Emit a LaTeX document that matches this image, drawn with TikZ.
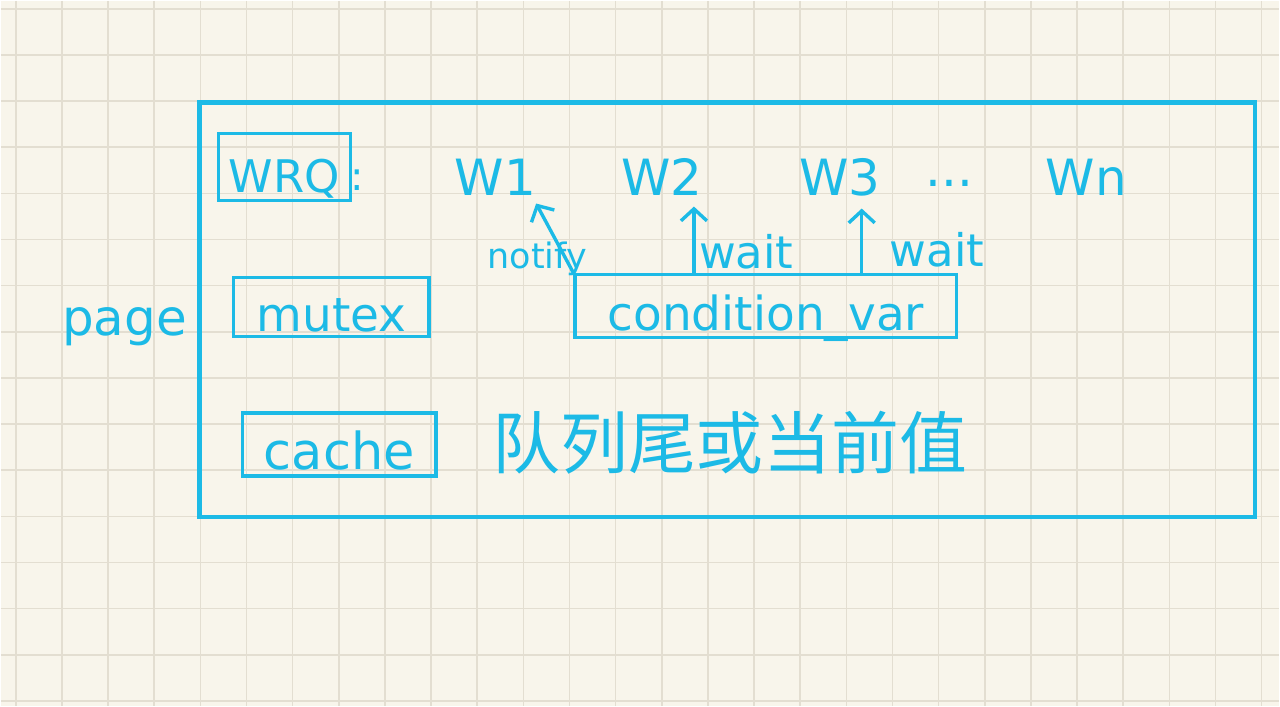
\documentclass[tikz,border=0pt]{standalone}
\usepackage{fontspec}
\setmainfont{DejaVu Sans}
\newfontfamily\cjkfont{Noto Sans CJK SC}
\usepackage{xcolor}
\usetikzlibrary{arrows.meta, calc}

\definecolor{pen}{RGB}{28,186,230}
\definecolor{paper}{RGB}{248,245,235}
\definecolor{gridline}{RGB}{227,222,209}

\begin{document}
\begin{tikzpicture}[
  x=1pt, y=-1pt,
  box/.style={draw=pen, line width=3.6pt, inner sep=0pt, text=pen,
              text height=50pt, text depth=0pt,
              font=\fontsize{47}{52}\selectfont},
  lbl/.style={text=pen, inner sep=0pt, anchor=base,
              font=\fontsize{50}{56}\selectfont},
  small/.style={text=pen, inner sep=0pt, anchor=base west,
                font=\fontsize{45}{50}\selectfont},
  ar/.style={draw=pen, line width=3.4pt, line cap=round,
             -{Straight Barb[length=12pt, width=26pt, line width=3.4pt]}}
]
% paper and grid
\fill[paper] (0,0) rectangle (1280,706);
\foreach \gx in {0,...,27}
  \draw[gridline, line width=1.6pt] ({15+46.2*\gx},0) -- ({15+46.2*\gx},706);
\foreach \gy in {0,...,15}
  \draw[gridline, line width=1.6pt] (0,{8+46.2*\gy}) -- (1280,{8+46.2*\gy});

% page frame and its parts
\node[box, line width=4.4pt, minimum width=1057pt, minimum height=415pt] (pg) at (727.5,309.5) {};
\node[lbl, anchor=base] (page) at (124,335) {page};
\node[box, minimum width=132pt, minimum height=67pt, font=\fontsize{45}{50}\selectfont] (wrq) at (284,166.5) {WRQ};
\node[lbl, font=\fontsize{40}{46}\selectfont] (colon) at (357,190) {:};
\node[box, minimum width=196pt, minimum height=59pt] (mtx) at (331,306.5) {mutex};
\node[box, minimum width=382pt, minimum height=63pt] (cv) at (766,305.5) {condition\_var};
\node[box, minimum width=194pt, minimum height=63pt, font=\fontsize{51}{56}\selectfont] (cache) at (339,444.5) {cache};

% waiters in the queue
\node[lbl] (w1) at (495,195) {W1};
\node[lbl] (w2) at (662,195) {W2};
\node[lbl] (w3) at (840,195) {W3};
\node[lbl] (dots) at (950,186) {...};
\node[lbl] (wn) at (1087,195) {Wn};

\node[text=pen, anchor=base, font=\cjkfont\fontsize{68}{74}\selectfont] (tail) at (730,468) {队列尾或当前值};

% notify / wait
\coordinate (n1) at (536,203);
\coordinate (t2) at (694,206);
\coordinate (t3) at (862,208);
\draw[ar] (cv.north west) -- (n1);
\draw[ar] (cv.north -| t2) -- (t2);
\draw[ar] (cv.north -| t3) -- (t3);
\node[small, font=\fontsize{35}{40}\selectfont, anchor=base] (ntf) at (537,268) {notify};
\node[small] (wt2) at (699,268) {wait};
\node[small] (wt3) at (890,266) {wait};
\end{tikzpicture}
\end{document}
